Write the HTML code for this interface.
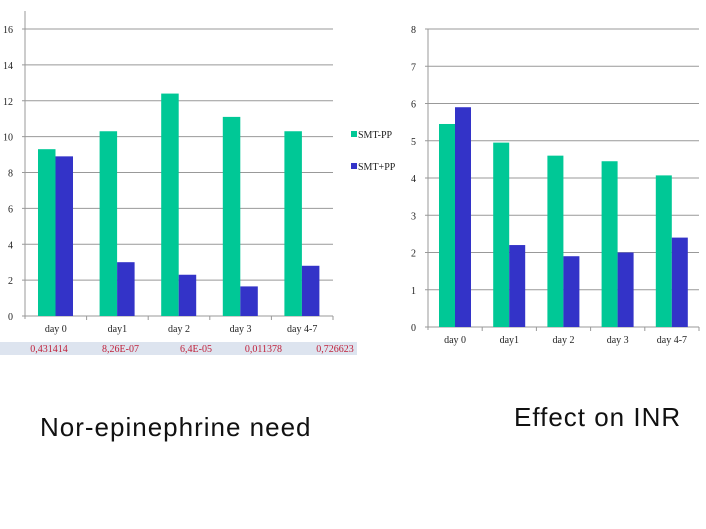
<!DOCTYPE html>
<html><head><meta charset="utf-8"><style>
body{margin:0;background:#fff;width:706px;height:529px;overflow:hidden;position:relative;font-family:"Liberation Serif",serif}
svg{position:absolute;left:0;top:0}
.t{font-family:"Liberation Sans",sans-serif;font-size:26px;letter-spacing:1px;position:absolute;color:#111;white-space:nowrap}
</style></head><body>
<svg id="c" width="706" height="529"></svg>
<div class="t" style="left:40px;top:412px">Nor-epinephrine need</div>
<div class="t" style="left:514px;top:402px">Effect on INR</div>
<script>
const categories=["day 0","day1","day 2","day 3","day 4-7"];
const noreMinus=[9.3,10.3,12.4,11.1,10.3];
const norePlus=[8.9,3.0,2.3,1.65,2.8];
const inrMinus=[5.45,4.95,4.6,4.45,4.07];
const inrPlus=[5.9,2.2,1.9,2.0,2.4];
const noreTicks=[0,2,4,6,8,10,12,14,16];
const inrTicks=[0,1,2,3,4,5,6,7,8];
const pValues=["0,431414","8,26E-07","6,4E-05","0,011378","0,726623"];
const seriesNames=["SMT-PP","SMT+PP"];
const pOffsets=[0,0,4,0,0];
const G="#00c896",B="#3333c8",NS="http://www.w3.org/2000/svg";
const svg=document.getElementById('c');
function el(t,a,txt){const e=document.createElementNS(NS,t);for(const k in a)e.setAttribute(k,a[k]);if(txt!=null)e.textContent=txt;svg.appendChild(e);return e;}
function chart(o){
  const y=v=>o.y0-(v/o.max)*(o.y0-o.yTop);
  const cw=(o.x1-o.x0)/categories.length;
  o.ticks.forEach(t=>{
    const l=el('line',{x1:o.x0-3,x2:o.x1,y1:y(t),y2:y(t),stroke:'#999','stroke-width':1});
    
    
    const tx=el('text',{x:o.x0-12,y:y(t)+4,'font-size':10,'text-anchor':'end',fill:'#222'},t);
    
    
  });
  const ax=el('line',{x1:o.x0,x2:o.x0,y1:o.axisTop,y2:o.y0+3,stroke:'#999'});
  
  
  categories.forEach((c,i)=>{
    const cx=o.x0+i*cw;
    const tk=el('line',{x1:cx+cw,x2:cx+cw,y1:o.y0,y2:o.y0+4,stroke:'#999'});
    
    
    [[o.a,G],[o.b,B]].forEach(([arr,col],j)=>{
      const r=el('rect',{x:cx+o.off+j*o.bw,y:y(arr[i]),width:o.bw,height:o.y0-y(arr[i]),fill:col});
      
      
    });
    const lb=el('text',{x:cx+cw/2,y:o.labelY,'font-size':10,'text-anchor':'middle',fill:'#222'},c);
    
    
  });
}
chart({id:'nore',x0:25,x1:333,y0:316,yTop:29,axisTop:11,max:16,ticks:noreTicks,a:noreMinus,b:norePlus,off:13,bw:17.5,labelY:332});
chart({id:'inr',x0:428,x1:699,y0:327,yTop:29,axisTop:29,max:8,ticks:inrTicks,a:inrMinus,b:inrPlus,off:11,bw:16,labelY:343});
const strip=el('rect',{x:0,y:342,width:357,height:13,fill:'#dde4ef'});


pValues.forEach((p,i)=>{
  const t=el('text',{x:49+i*71.5+pOffsets[i],y:352,'font-size':10,'text-anchor':'middle',fill:'#c0203a'},p);
  
  
});
seriesNames.forEach((n,i)=>{
  const r=el('rect',{x:351,y:131+i*32,width:6,height:6,fill:i?B:G});
  
  
  const t=el('text',{x:358,y:138+i*32,'font-size':10,fill:'#222'},n);
  
  
});
</script>
</body></html>
